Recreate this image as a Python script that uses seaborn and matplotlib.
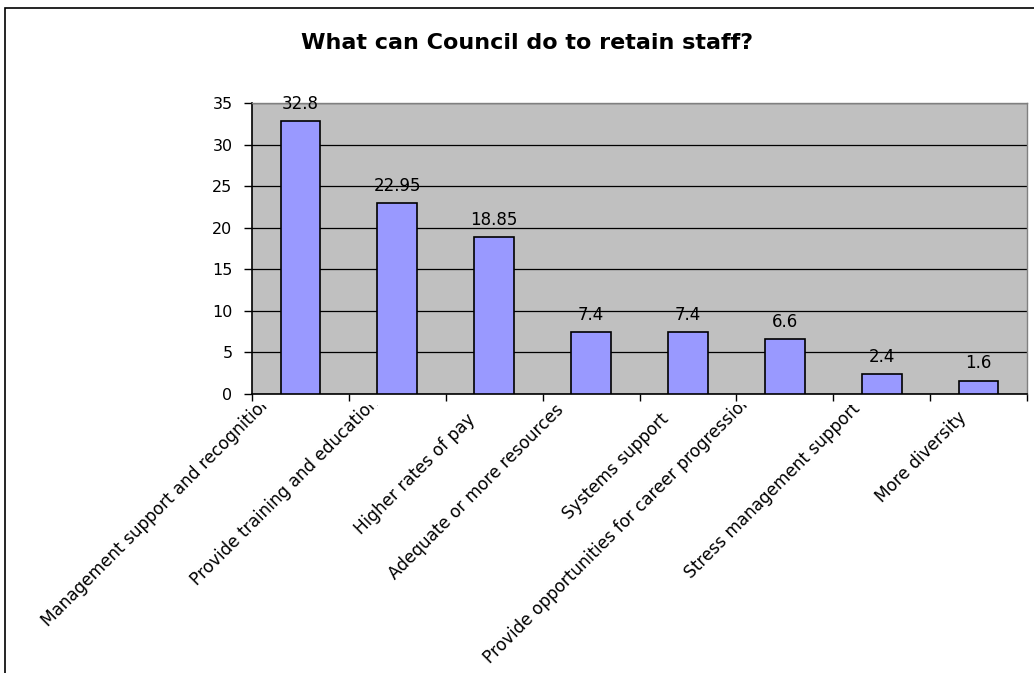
import numpy as np
import pandas as pd
import matplotlib
matplotlib.use("Agg")
import matplotlib.pyplot as plt
import matplotlib.transforms as mtransforms
from matplotlib.patches import Rectangle
import seaborn as sns

# Survey responses: share of staff (%) naming each retention measure
categories = [
    "Management support and recognition",
    "Provide training and education",
    "Higher rates of pay",
    "Adequate or more resources",
    "Systems support",
    "Provide opportunities for career progression",
    "Stress management support",
    "More diversity",
]
values = [32.8, 22.95, 18.85, 7.4, 7.4, 6.6, 2.4, 1.6]
value_labels = ["32.8", "22.95", "18.85", "7.4", "7.4", "6.6", "2.4", "1.6"]
y_ticks = [0, 5, 10, 15, 20, 25, 30, 35]
title = "What can Council do to retain staff?"

df = pd.DataFrame({"measure": categories, "percent": values})

sns.set_theme(style="white")
plt.rcParams["font.family"] = ["DejaVu Sans"]
plt.rcParams["text.color"] = "black"
plt.rcParams["xtick.color"] = "black"
plt.rcParams["ytick.color"] = "black"

W, H, DPI = 1034, 673, 100
fig = plt.figure(figsize=(W / DPI, H / DPI), dpi=DPI, facecolor="white")

# plot area in pixel terms
left, right, top, bottom = 252, 1027, 103, 394
ax = fig.add_axes([left / W, 1 - bottom / H, (right - left) / W, (bottom - top) / H])
ax.set_facecolor("#C0C0C0")

sns.barplot(data=df, x="measure", y="percent", color="#9999FF", saturation=1,
            width=0.41, edgecolor="black", linewidth=1.2, ax=ax, zorder=3)

ax.set_ylim(0, 35)
ax.set_xlim(-0.5, len(categories) - 0.5)
ax.set_yticks(y_ticks)
ax.set_yticklabels([str(t) for t in y_ticks], fontsize=11.5, color="black")
ax.yaxis.grid(True, color="black", linewidth=0.9, zorder=1)
ax.set_axisbelow(True)

# ticks sit on the category boundaries; labels are drawn separately
ax.set_xticks(np.arange(-0.5, len(categories), 1.0))
ax.set_xticklabels([""] * (len(categories) + 1))
ax.tick_params(axis="x", direction="out", length=5, width=1, color="black", bottom=True)
ax.tick_params(axis="y", direction="out", length=6, width=1, color="black", left=True, pad=8)
ax.set_xlabel("")
ax.set_ylabel("")

for side in ("left", "bottom"):
    ax.spines[side].set_color("black")
    ax.spines[side].set_linewidth(1.2)
for side in ("top", "right"):
    ax.spines[side].set_color("#808080")
    ax.spines[side].set_linewidth(1.0)

# value labels above bars
ax.bar_label(ax.containers[0], labels=value_labels, padding=6, fontsize=12, color="black")

# rotated category labels: the end of each baseline is placed at a pixel offset
# from the left tick of its category; long labels run past a clip line under the axis
end_dx = [21, 31, 30, 22, 30, 17, 28, 37]
end_dy = [9, 9, 26, 17, 26, 7, 15, 24]
clip = mtransforms.TransformedBbox(
    mtransforms.Bbox([[0, 0], [1, 1 - 405 / H]]), fig.transFigure)
for i, name in enumerate(categories):
    off = mtransforms.ScaledTranslation(end_dx[i] / DPI, -end_dy[i] / DPI, fig.dpi_scale_trans)
    t = ax.text(i - 0.5, 0, name, transform=ax.get_xaxis_transform() + off,
                rotation=45, rotation_mode="anchor", ha="right", va="baseline",
                fontsize=12.2, color="black", clip_on=True)
    t.set_clip_box(clip)

fig.text(527 / W, 1 - 49 / H, title, ha="center", va="baseline",
         fontsize=16, fontweight="bold", color="black")

# chart frame
fig.patches.append(Rectangle((5 / W, -0.1), 1.2, 1.1 - 8 / H, transform=fig.transFigure,
                             fill=False, edgecolor="black", linewidth=1.2))

fig.savefig("out.png", dpi=DPI, facecolor="white")
